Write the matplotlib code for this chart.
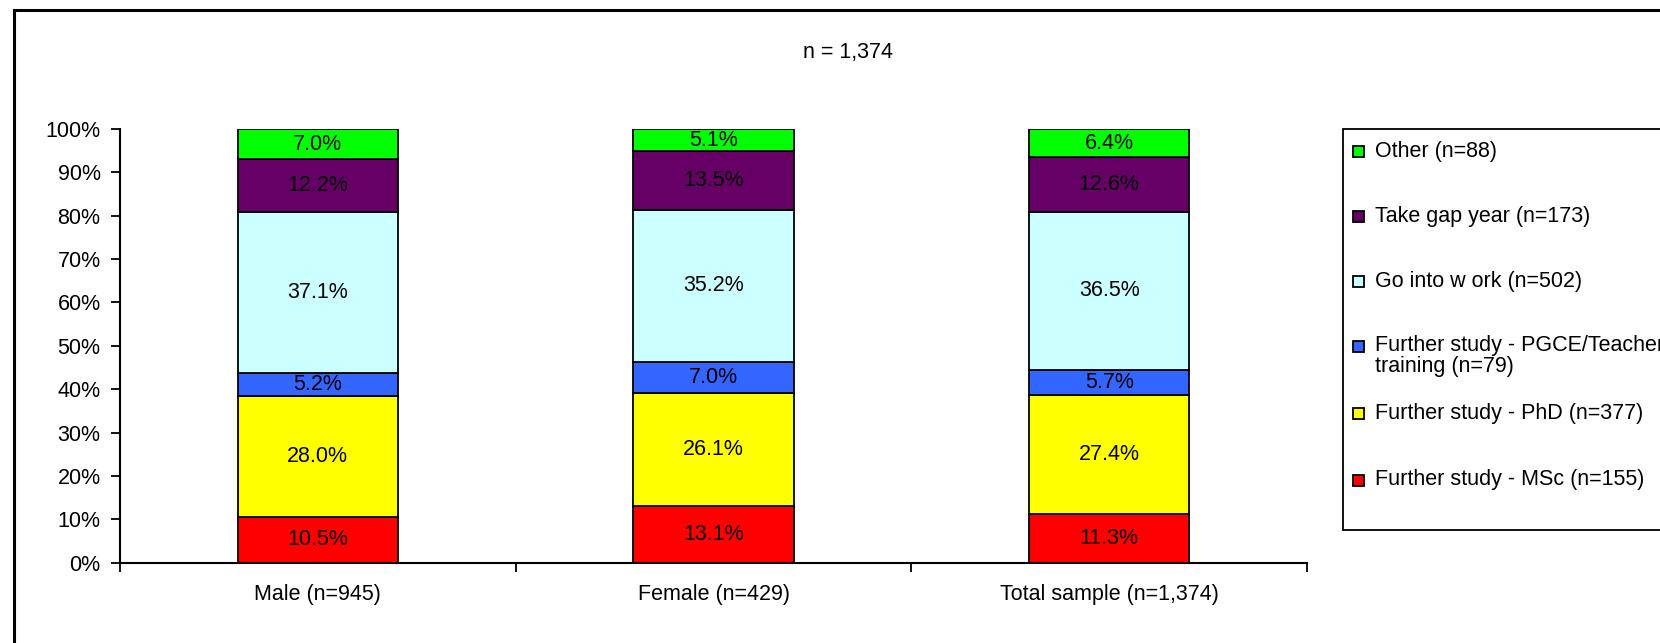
import numpy as np
import matplotlib
matplotlib.use('Agg')
import matplotlib.pyplot as plt
from matplotlib.patches import Rectangle
from matplotlib.lines import Line2D

plt.rcParams['font.family'] = ['Liberation Sans', 'DejaVu Sans']

# percentages per group, bottom segment first
groups = ['Male (n=945)', 'Female (n=429)', 'Total sample (n=1,374)']
categories = ['Further study - MSc (n=155)',
              'Further study - PhD (n=377)',
              'Further study - PGCE/Teacher\ntraining (n=79)',
              'Go into w ork (n=502)',
              'Take gap year (n=173)',
              'Other (n=88)']
msc = [10.5, 13.1, 11.3]
phd = [28.0, 26.1, 27.4]
pgce = [5.2, 7.0, 5.7]
work = [37.1, 35.2, 36.5]
gap_year = [12.2, 13.5, 12.6]
other = [7.0, 5.1, 6.4]
colors = ['#FF0000', '#FFFF00', '#3366FF', '#CCFFFF', '#660066', '#00FF00']
title = 'n = 1,374'

W, H = 1660, 643
fs = 15.5


def fx(x):
    return x / W


def fy(y):
    return 1 - y / H


fig = plt.figure(figsize=(W / 100, H / 100), dpi=100)
ax = fig.add_axes([fx(120), fy(562.7), fx(1307) - fx(120), fy(129) - fy(562.7)])

series = [msc, phd, pgce, work, gap_year, other]
x = np.arange(len(groups))
bottom = np.zeros(len(groups))
for vals, col in zip(series, colors):
    vals = np.array(vals)
    ax.bar(x, vals, width=0.405, bottom=bottom, color=col,
           edgecolor='black', linewidth=1.3, zorder=2)
    for xi, b, v in zip(x, bottom, vals):
        ax.text(xi, b + v / 2, f'{v:.1f}%', ha='center', va='center',
                fontsize=fs, color='black', zorder=3)
    bottom += vals

ax.set_xlim(-0.5, len(groups) - 0.5)
ax.set_ylim(0, 100)
ax.set_yticks(np.arange(0, 101, 10))
ax.set_yticklabels([f'{v}%' for v in range(0, 101, 10)], fontsize=fs)
ax.tick_params(axis='y', direction='out', length=6.5, width=1.3, pad=7.5)

# ticks between groups, labels under each bar
ax.set_xticks(np.arange(len(groups) + 1) - 0.5)
ax.set_xticklabels([''] * (len(groups) + 1))
ax.tick_params(axis='x', which='major', direction='out', length=6.5, width=1.3)
ax.set_xticks(x, minor=True)
ax.set_xticklabels(groups, minor=True, fontsize=fs)
ax.tick_params(axis='x', which='minor', length=0, pad=15)

for side in ['top', 'right']:
    ax.spines[side].set_visible(False)
for side in ['left', 'bottom']:
    ax.spines[side].set_linewidth(1.5)

fig.text(fx(847.5), fy(52.7), title, ha='center', va='center', fontsize=fs)

# outer chart border
fig.add_artist(Line2D([fx(14), 1.0], [fy(10), fy(10)], color='black', lw=2.2))
fig.add_artist(Line2D([fx(14), fx(14)], [fy(10), 0.0], color='black', lw=2.2))

# legend box
fig.add_artist(Rectangle((fx(1343), fy(530)), fx(1700) - fx(1343), fy(129) - fy(530),
                         transform=fig.transFigure, facecolor='white',
                         edgecolor='black', lw=1.3))
entry_y = [480, 413, 346.7, 281.7, 216.7, 151.7]
for lab, col, yc in zip(categories, colors, entry_y):
    fig.add_artist(Rectangle((fx(1352.5), fy(yc + 5.5)), fx(11), fy(yc - 5.5) - fy(yc + 5.5),
                             transform=fig.transFigure, facecolor=col,
                             edgecolor='black', lw=1.3))
    if '\n' in lab:
        fig.text(fx(1375), fy(yc - 11.5), lab, ha='left', va='top',
                 fontsize=fs, linespacing=1.0)
    else:
        fig.text(fx(1375), fy(yc), lab, ha='left', va='center', fontsize=fs)

fig.savefig('out.png', dpi=100)
